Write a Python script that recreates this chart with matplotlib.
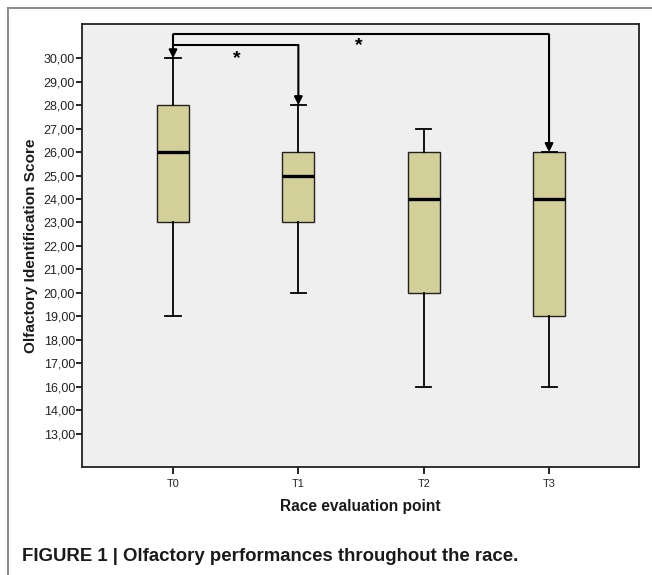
import matplotlib
matplotlib.use("Agg")
import matplotlib.pyplot as plt
from matplotlib.patches import Rectangle
import numpy as np

plt.rcParams['font.family'] = ['Liberation Sans', 'DejaVu Sans']

# ---- data ----
categories = ['T0', 'T1', 'T2', 'T3']
whisker_low = [19, 20, 16, 16]
q1 = [23, 23, 20, 19]
median = [26, 25, 24, 24]
q3 = [28, 26, 26, 26]
whisker_high = [30, 28, 27, 26]

ytick_pos = list(range(30, 13, -1))
ytick_labels = ['30,00', '29,00', '28,00', '27,00', '26,00', '25,00', '24,00',
                '23,00', '22,00', '21,00', '20,00', '19,00', '18,00', '17,00',
                '16,00', '14,00', '13,00']

W, H = 652, 575
fig = plt.figure(figsize=(W / 100, H / 100), dpi=100)
fig.patch.set_facecolor('white')

# outer frame
fig.add_artist(Rectangle((8 / W, -0.1), 1.2, 1.1 - 8 / H, transform=fig.transFigure,
                         fill=False, edgecolor='#8a8a8a', lw=1.4))

ax = fig.add_axes([82 / W, 1 - 467.3 / H, (639.3 - 82) / W, (467.3 - 24) / H])
ax.set_facecolor('#efefef')

stats = []
for i, c in enumerate(categories):
    stats.append(dict(label=c, whislo=whisker_low[i], q1=q1[i], med=median[i],
                      q3=q3[i], whishi=whisker_high[i], fliers=[]))

pos = np.arange(len(categories))
ax.bxp(stats, positions=pos, widths=0.255, patch_artist=True, showfliers=False,
       capwidths=0.12,
       boxprops=dict(facecolor='#d3cf98', edgecolor='#222222', lw=1.0),
       medianprops=dict(color='black', lw=2.4),
       whiskerprops=dict(color='black', lw=1.3),
       capprops=dict(color='black', lw=1.3))

ax.set_xlim(-0.726, 3.72)
ax.set_ylim(12.56, 31.46)
ax.set_yticks(ytick_pos)
ax.set_yticklabels(ytick_labels)
ax.set_xticks(pos)
ax.set_xticklabels(categories)
ax.tick_params(axis='y', length=4.5, width=1.2, labelsize=9, pad=0.5, labelcolor='#222222')
ax.tick_params(axis='x', length=5, width=1.2, labelsize=7.8, pad=3.5, labelcolor='#222222')
for s in ax.spines.values():
    s.set_linewidth(1.3)
    s.set_color('#222222')

ax.set_ylabel('Olfactory Identification Score', fontsize=11.1, fontweight='bold', labelpad=4,
              color='#1a1a1a')
ax.set_xlabel('Race evaluation point', fontsize=11.2, fontweight='bold', labelpad=7,
              color='#1a1a1a')

# significance brackets
top_level = 31.015
low_level = 30.57
ap = dict(arrowstyle='-|>', color='black', lw=1.5, shrinkA=0, shrinkB=0, mutation_scale=12)
ax.plot([pos[0], pos[3]], [top_level, top_level], color='black', lw=1.5, solid_capstyle='butt')
ax.annotate('', xy=(pos[0], whisker_high[0]), xytext=(pos[0], top_level), arrowprops=ap)
ax.annotate('', xy=(pos[3], q3[3]), xytext=(pos[3], top_level), arrowprops=ap)
ax.plot([pos[0], pos[1]], [low_level, low_level], color='black', lw=1.5, solid_capstyle='butt')
ax.annotate('', xy=(pos[1], whisker_high[1]), xytext=(pos[1], low_level), arrowprops=ap)

ax.text(0.51, 29.97, '*', fontsize=14, fontweight='bold', ha='center', va='center')
ax.text(1.48, 30.55, '*', fontsize=14, fontweight='bold', ha='center', va='center')

fig.text(22 / W, 1 - 561 / H, 'FIGURE 1 | Olfactory performances throughout the race.',
         fontsize=13.4, fontweight='bold', ha='left', va='baseline', color='#1a1a1a')

fig.savefig('out.png', dpi=100)
